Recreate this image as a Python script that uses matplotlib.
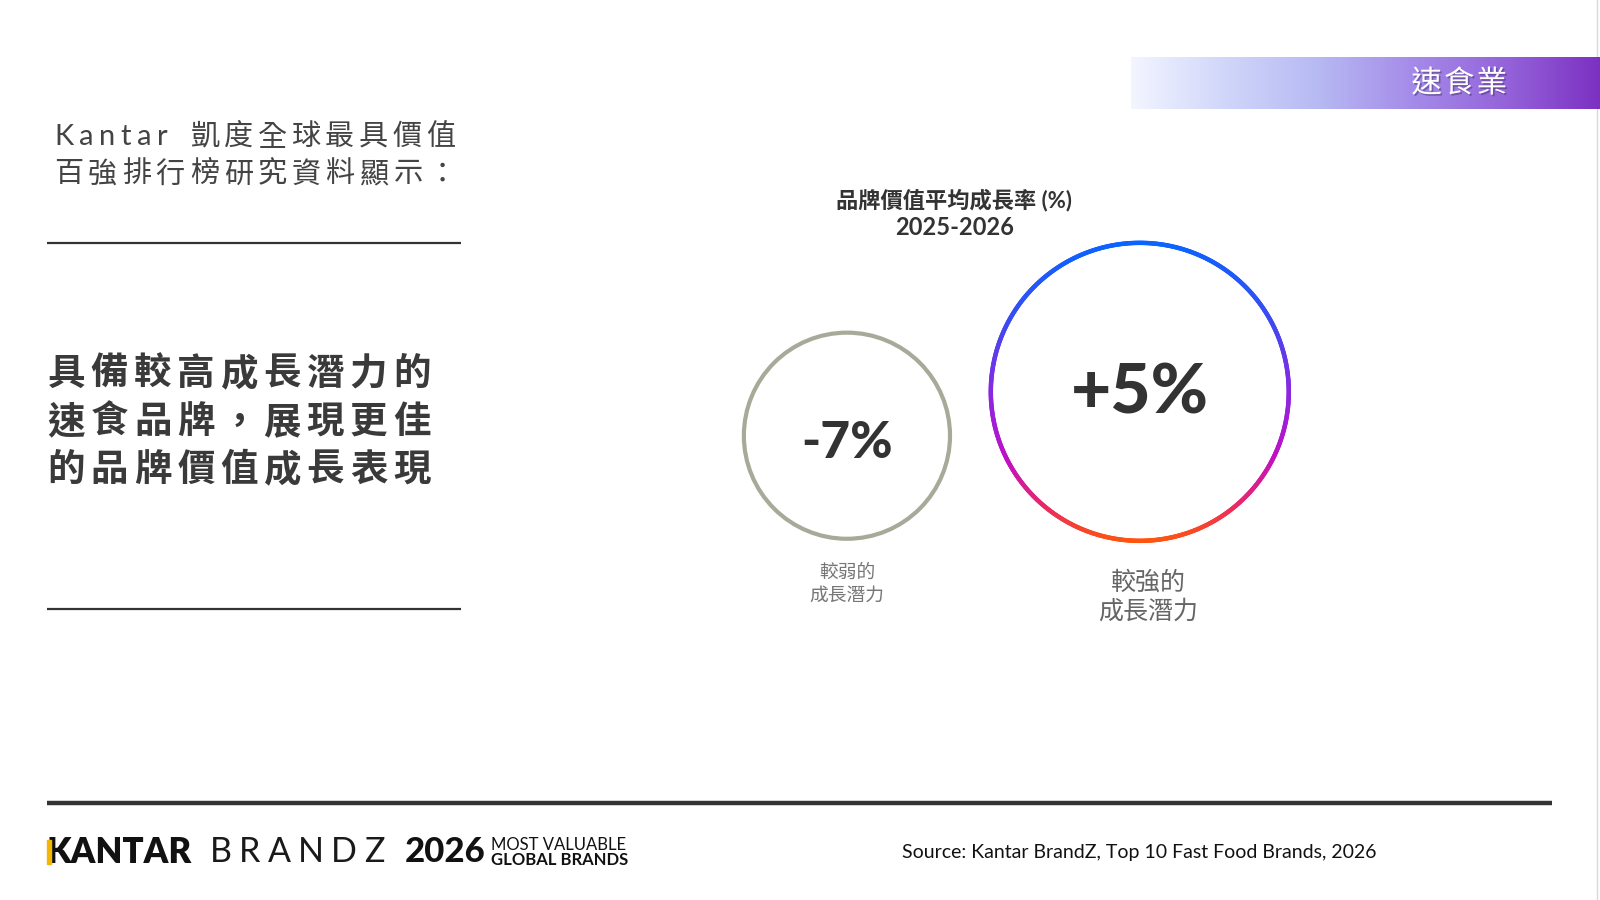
import numpy as np
import matplotlib
matplotlib.use("Agg")
import matplotlib.pyplot as plt
from matplotlib.collections import LineCollection
from matplotlib.colors import LinearSegmentedColormap
from matplotlib.patches import Circle, Rectangle
import matplotlib.patheffects as pe

# ---------------- data ----------------
growth = [-7, 5]                                   # average brand value growth (%)
potential_labels = ["較弱的\n成長潛力", "較強的\n成長潛力"]
chart_title = "品牌價值平均成長率 (%)"
period = "2025-2026"
sector = "速食業"
intro_lines = ["Kantar 凱度全球最具價值", "百強排行榜研究資料顯示："]
headline_lines = ["具備較高成長潛力的", "速食品牌，展現更佳", "的品牌價值成長表現"]
source = "Source: Kantar BrandZ, Top 10 Fast Food Brands, 2026"

CJK = ["Noto Sans CJK TC", "DejaVu Sans"]
LAT = ["Lato", "Noto Sans CJK TC", "DejaVu Sans"]
plt.rcParams["font.family"] = LAT

W, H = 1568, 882
fig = plt.figure(figsize=(16, 9), dpi=100)
fig.patch.set_facecolor("white")
ax = fig.add_axes([0, 0, 1, 1])
ax.set_xlim(0, W)
ax.set_ylim(H, 0)
ax.axis("off")

renderer = fig.canvas.get_renderer()
px_per_unit = 1600 / W


def pitch_text(x0, y, s, pitch, **kw):
    """Place characters one by one at a fixed pitch (centers)."""
    for i, ch in enumerate(s):
        ax.text(x0 + i * pitch, y, ch, ha="center", va="center", **kw)


def spaced_latin(x0, y, s, spacing, **kw):
    cx = x0
    for ch in s:
        if ch == " ":
            cx += spacing * 2
            continue
        t = ax.text(cx, y, ch, ha="left", va="center", **kw)
        bb = t.get_window_extent(renderer=renderer)
        cx += bb.width / px_per_unit + spacing
    return cx


# ---------------- top-right banner ----------------
banner_cmap = LinearSegmentedColormap.from_list(
    "banner", ["#f3f5ff", "#d0d6fa", "#b7b9f3", "#a58be9", "#9463da", "#7c30c2"])
grad = np.linspace(0, 1, 512).reshape(1, -1)
ax.imshow(grad, cmap=banner_cmap, aspect="auto",
          extent=[1108, W, 107, 57], zorder=1)
pitch_text(1398, 82, sector, 32, fontsize=22, color="white", family=CJK,
           path_effects=[pe.withSimplePatchShadow(offset=(1.2, -1.2),
                                                  shadow_rgbFace="#3a2a60", alpha=0.45)],
           zorder=3)
ax.plot([1565.5, 1565.5], [0, H], color="#d9d9d9", lw=1, zorder=0)

# ---------------- left text block ----------------
spaced_latin(53, 134, "Kantar", 5.4, fontsize=21, color="#444444")
pitch_text(201, 134, intro_lines[0].split(" ")[1], 33.0, fontsize=21,
           color="#444444", family=CJK)
pitch_text(67, 171, intro_lines[1], 33.3, fontsize=21, color="#444444", family=CJK)

ax.plot([46, 452], [238, 238], color="#333333", lw=1.6, solid_capstyle="butt")
ax.plot([46, 452], [597, 597], color="#333333", lw=1.6, solid_capstyle="butt")

for i, line in enumerate(headline_lines):
    pitch_text(65, 366 + i * 47, line, 42.3, fontsize=27, fontweight="bold",
               color="#3a3a3a", family=CJK)

# ---------------- chart ----------------
ax.text(935, 196, chart_title, ha="center", va="center", fontsize=16,
        fontweight="bold", color="#333333")
ax.text(935, 223, period, ha="center", va="center", fontsize=17,
        fontweight="bold", color="#333333")

centers = [(830, 427), (1117, 384)]
radii = [101, 146]

# weaker potential: plain grey ring
ax.add_patch(Circle(centers[0], radii[0], fill=False, ec="#a9a999", lw=3.0, zorder=2))

# stronger potential: gradient ring (blue top -> orange bottom)
ring_cmap = LinearSegmentedColormap.from_list(
    "ring", [(0.0, "#0a64ff"), (0.25, "#3a4cf2"), (0.5, "#8a28e2"),
             (0.72, "#c010c8"), (0.88, "#e8286a"), (1.0, "#ff5310")])
cx, cy = centers[1]
r = radii[1]
th = np.linspace(0, 2 * np.pi, 721)
xs = cx + r * np.cos(th)
ys = cy + r * np.sin(th)
pts = np.column_stack([xs, ys]).reshape(-1, 1, 2)
segs = np.concatenate([pts[:-1], pts[1:]], axis=1)
ymid = (ys[:-1] + ys[1:]) / 2
lc = LineCollection(segs, colors=ring_cmap((ymid - (cy - r)) / (2 * r)),
                    linewidths=3.2, capstyle="round", zorder=2)
ax.add_collection(lc)

value_sizes = [37, 50]
value_y = [435, 386]
for (x, _), v, fs, vy in zip(centers, growth, value_sizes, value_y):
    ax.text(x, vy, f"{v:+d}%", ha="center", va="center", fontsize=fs,
            fontweight="black", color="#333333", zorder=3)

ax.text(830, 572, potential_labels[0], ha="center", va="center", fontsize=13.5,
        color="#777777", family=CJK, linespacing=1.1)
ax.text(1125, 585, potential_labels[1], ha="center", va="center", fontsize=18,
        color="#666666", family=CJK, linespacing=1.15)

# ---------------- footer ----------------
ax.plot([46, 1521], [787, 787], color="#333333", lw=3.2, solid_capstyle="butt")

ax.text(46, 835, "KANTAR", ha="left", va="center", fontsize=25,
        fontweight="heavy", color="#111111")
ax.add_patch(Rectangle((46, 823), 3.5, 24, color="#f2b705", zorder=4))
spaced_latin(206, 835, "BRANDZ", 7.0, fontsize=24.5, fontweight="normal",
             color="#1a1a1a")
ax.text(397, 835, "2026", ha="left", va="center", fontsize=25,
        fontweight="black", color="#111111")
ax.text(481, 828, "MOST VALUABLE", ha="left", va="center", fontsize=12,
        color="#111111")
ax.text(481, 843, "GLOBAL BRANDS", ha="left", va="center", fontsize=12,
        fontweight="bold", color="#111111")

ax.text(1116, 835, source, ha="center", va="center", fontsize=14,
        color="#111111")

fig.savefig("out.png", dpi=100, facecolor="white")
